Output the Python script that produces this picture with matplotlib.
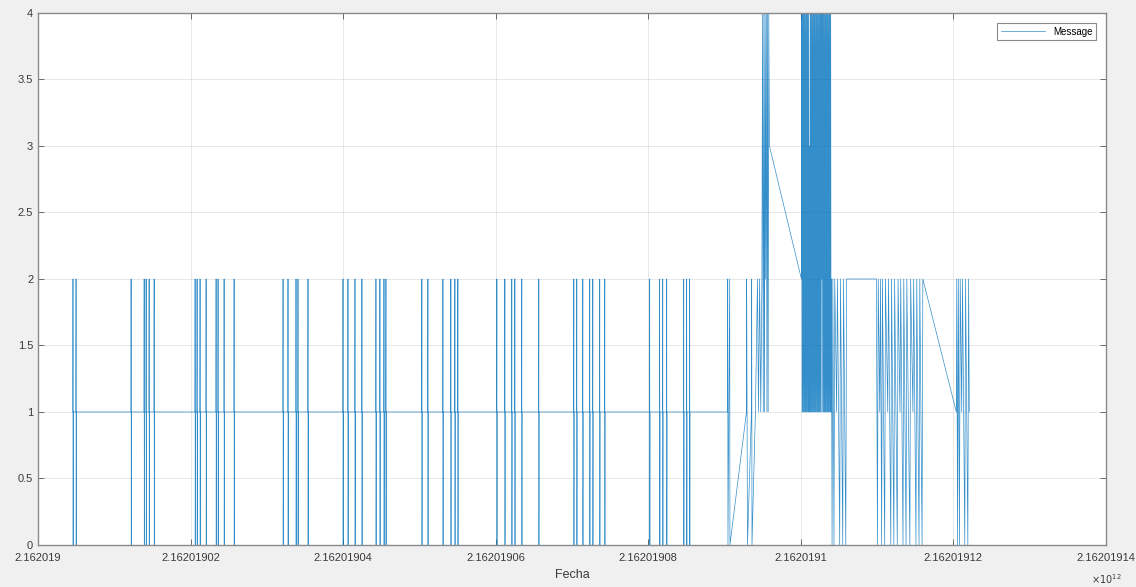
import numpy as np
import matplotlib.pyplot as plt
import matplotlib

plt.rcParams['font.family'] = ['Liberation Sans', 'DejaVu Sans']

# base of the time axis, times below are offsets from it
T0 = 2162019000000

# Message log: time offsets and values
# part a: flat at 1 with short jumps to 2 and 0
fecha_a = [4560, 4580, 4600, 4620, 4960, 4980, 5000, 5020,
           12180, 12200, 12220, 12240, 13890, 13910, 13930, 13950,
           14150, 14170, 14190, 14210, 14540, 14560, 14580, 14600,
           15200, 15220, 15240, 15260, 20570, 20590, 20610, 20630,
           20830, 20850, 20870, 20890, 21220, 21240, 21260, 21280,
           22010, 22030, 22050, 22070, 23320, 23340, 23360, 23380,
           23580, 23600, 23620, 23640, 24370, 24390, 24410, 24430,
           25680, 25700, 25720, 25740, 32100, 32120, 32140, 32160,
           32750, 32770, 32790, 32810, 33800, 33820, 33840, 33860,
           34060, 34080, 34100, 34120, 35370, 35390, 35410, 35430,
           39960, 39980, 40000, 40020, 40610, 40630, 40650, 40670,
           41530, 41550, 41570, 41590, 42440, 42460, 42480, 42500,
           44280, 44300, 44320, 44340, 44800, 44820, 44840, 44860,
           45330, 45350, 45370, 45390, 45590, 45610, 45630, 45650,
           50300, 50320, 50340, 50360, 51090, 51110, 51130, 51150,
           53060, 53080, 53100, 53120, 54100, 54120, 54140, 54160,
           54630, 54650, 54670, 54690, 55020, 55040, 55060, 55080,
           60130, 60150, 60170, 60190, 61180, 61200, 61220, 61240,
           62090, 62110, 62130, 62150, 62490, 62510, 62530, 62550,
           63400, 63420, 63440, 63460, 65630, 65650, 65670, 65690,
           70220, 70240, 70260, 70280, 70610, 70630, 70650, 70670,
           71400, 71420, 71440, 71460, 72310, 72330, 72350, 72370,
           72710, 72730, 72750, 72770, 73620, 73640, 73660, 73680,
           74280, 74300, 74320, 74340, 80170, 80190, 80210, 80230,
           81480, 81500, 81520, 81540, 81880, 81900, 81920, 81940,
           82400, 82420, 82440, 82460, 84630, 84650, 84670, 84690,
           85020, 85040, 85060, 85080, 85410, 85430, 85450, 85470]
msg_a = [1, 2, 0, 1, 1, 2, 0, 1,
         1, 2, 0, 1, 1, 2, 0, 1,
         1, 2, 0, 1, 1, 2, 0, 1,
         1, 2, 0, 1, 1, 2, 0, 1,
         1, 2, 0, 1, 1, 2, 0, 1,
         1, 2, 0, 1, 1, 2, 0, 1,
         1, 2, 0, 1, 1, 2, 0, 1,
         1, 2, 0, 1, 1, 2, 0, 1,
         1, 2, 0, 1, 1, 2, 0, 1,
         1, 2, 0, 1, 1, 2, 0, 1,
         1, 2, 0, 1, 1, 2, 0, 1,
         1, 2, 0, 1, 1, 2, 0, 1,
         1, 2, 0, 1, 1, 2, 0, 1,
         1, 2, 0, 1, 1, 2, 0, 1,
         1, 2, 0, 1, 1, 2, 0, 1,
         1, 2, 0, 1, 1, 2, 0, 1,
         1, 2, 0, 1, 1, 2, 0, 1,
         1, 2, 0, 1, 1, 2, 0, 1,
         1, 2, 0, 1, 1, 2, 0, 1,
         1, 2, 0, 1, 1, 2, 0, 1,
         1, 2, 0, 1, 1, 2, 0, 1,
         1, 2, 0, 1, 1, 2, 0, 1,
         1, 2, 0, 1, 1, 2, 0, 1,
         1, 2, 0, 1, 1, 2, 0, 1,
         1, 2, 0, 1, 1, 2, 0, 1,
         1, 2, 0, 1, 1, 2, 0, 1,
         1, 2, 0, 1, 1, 2, 0, 1]

# part b: start of the busy stretch, up to the first jump to 4
fecha_b = [90390, 90420, 90450, 90680, 90710, 92880, 92900, 93010,
           93530, 93560, 93600, 94050, 94320, 94450, 94600, 94750,
           94900, 94980, 95080, 95160, 95240, 95320, 95400, 95480,
           95560, 95640, 95720, 95800, 95890, 100080]
msg_b = [1, 2, 0, 2, 0, 1, 2, 0,
         1, 2, 0, 1, 2, 1, 2, 1,
         2, 4, 1, 4, 1, 4, 2, 4,
         1, 4, 1, 4, 3, 2]

# part c: dense block between 1 and 4
fecha_c = [100120, 100170, 100220, 100270, 100320, 100370, 100420, 100470,
           100520, 100570, 100620, 100670, 100720, 100770, 100820, 100870,
           100920, 100970, 101020, 101070, 101120, 101170, 101220, 101270,
           101320, 101370, 101420, 101470, 101520, 101570, 101620, 101670,
           101720, 101770, 101820, 101870, 101920, 101970, 102020, 102070,
           102120, 102170, 102220, 102270, 102320, 102370, 102420, 102470,
           102520, 102570, 102620, 102670, 102720, 102770, 102820, 102870,
           102920, 102970, 103020, 103070, 103120, 103170, 103220, 103270,
           103320, 103370, 103420, 103470, 103520, 103570, 103620, 103670,
           103720, 103770, 103820, 103870, 103920, 103970, 104010]
msg_c = [4, 1, 4, 1, 4, 1, 4, 1,
         4, 1, 4, 1, 4, 1, 4, 1,
         4, 1, 4, 1, 3, 1, 4, 1,
         4, 1, 4, 1, 4, 1, 4, 1,
         4, 1, 4, 1, 4, 1, 4, 1,
         4, 1, 4, 1, 4, 1, 4, 1,
         4, 1, 4, 1, 4, 2, 4, 1,
         4, 1, 4, 1, 4, 1, 4, 1,
         4, 1, 4, 1, 4, 1, 4, 1,
         4, 1, 4, 1, 4, 1, 2]

# part d: back to 2 with drops to 0 and 1, then the tail
fecha_d = [104100, 104200, 104350, 104450, 104700, 104800, 105100, 105200,
           105500, 105600, 105900, 106000, 109910,
           110050, 110150, 110350, 110450, 110600, 110700, 111000, 111100,
           111400, 111500, 111800, 111900, 112200, 112300, 112650, 112750,
           113000, 113100, 113400, 113500, 113800, 113900, 114300, 114400,
           114700, 114800, 115100, 115200, 115500, 115600, 115900, 116000,
           120390, 120450, 120550, 120650, 120800, 120900, 121100, 121200,
           121500, 121600, 121900, 122000, 122090]
msg_d = [0, 2, 0, 2, 1, 2, 0, 2,
         0, 2, 0, 2, 2,
         0, 2, 1, 2, 0, 2, 0, 2,
         1, 2, 0, 2, 0, 2, 0, 2,
         1, 2, 0, 2, 0, 2, 0, 2,
         1, 2, 0, 2, 0, 2, 0, 2,
         1, 2, 0, 2, 0, 2, 1, 2,
         0, 2, 0, 2, 1]

xtick_vals = [T0 + k for k in [0, 20000, 40000, 60000, 80000, 100000, 120000, 140000]]
ytick_vals = [0, 0.5, 1, 1.5, 2, 2.5, 3, 3.5, 4]

fecha = T0 + np.array(fecha_a + fecha_b + fecha_c + fecha_d, dtype=float)
message = np.array(msg_a + msg_b + msg_c + msg_d, dtype=float)

fig = plt.figure(figsize=(11.36, 5.87), dpi=100, facecolor='#f0f0f0')
ax = fig.add_axes([0.0335, 0.0716, 0.9400, 0.9063])
ax.plot(fecha, message, color='#0072BD', lw=0.5, alpha=0.8, label='Message')

ax.set_xlim(xtick_vals[0], xtick_vals[-1])
ax.set_ylim(0, 4)
ax.set_xticks(xtick_vals)
ax.set_xticklabels(['%.9g' % (v / 1e12) for v in xtick_vals])
ax.set_yticks(ytick_vals)
ax.set_yticklabels(['%g' % v for v in ytick_vals])

ax.grid(True, color='#262626', alpha=0.12, lw=0.6)
ax.tick_params(direction='in', top=True, right=True, length=4, width=0.6,
               color='#555555', labelcolor='#3a3a3a', labelsize=8)
ax.tick_params(axis='x', pad=6)
for s in ax.spines.values():
    s.set_color('#8a8a8a')
    s.set_linewidth(1.0)

ax.set_xlabel('Fecha', fontsize=9, color='#3a3a3a', labelpad=4)
ax.text(1.0, -0.052, r'$\times10^{12}$', transform=ax.transAxes, ha='center',
        va='top', fontsize=7, color='#3a3a3a')

leg = ax.legend(loc='upper right', fontsize=7, handlelength=4.5, fancybox=False,
                framealpha=1, edgecolor='#8a8a8a', borderaxespad=1.0)
leg.get_frame().set_linewidth(0.8)

fig.savefig('out.png', dpi=100, facecolor=fig.get_facecolor())
